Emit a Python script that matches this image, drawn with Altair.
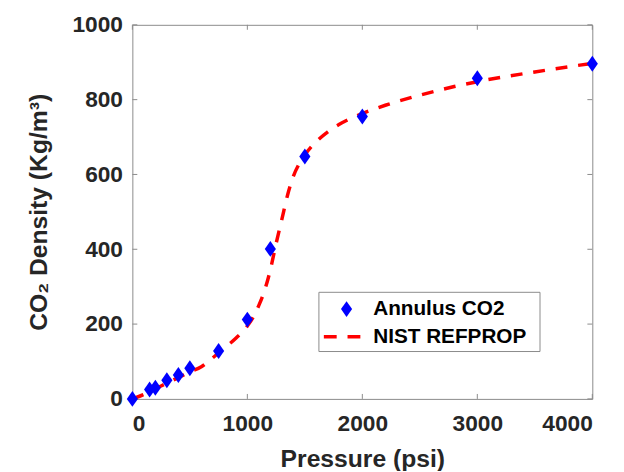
import altair as alt
import pandas as pd

# Measured data (Annulus CO2)
pressure_meas = [0, 150, 200, 300, 400, 500, 750, 1000, 1200, 1500, 2000, 3000, 4000]
density_meas = [0, 25, 30, 50, 64, 82, 128, 212, 401, 648, 755, 857, 896]

# NIST REFPROP curve
pressure_nist = [0, 100, 200, 300, 400, 500, 600, 700, 800, 900, 1000, 1050, 1100, 1150,
                 1200, 1250, 1300, 1350, 1400, 1450, 1500, 1600, 1700, 1800, 1900, 2000,
                 2200, 2500, 2800, 3000, 3500, 4000]
density_nist = [0, 12, 27, 42, 57, 72, 86, 110, 136, 162, 195, 218, 250, 290,
                345, 415, 480, 545, 595, 628, 652, 688, 714, 734, 750, 763,
                785, 812, 835, 848, 874, 897]

x_ticks = [0, 1000, 2000, 3000, 4000]
y_ticks = [0, 200, 400, 600, 800, 1000]
legend_labels = ["Annulus CO2", "NIST REFPROP"]

W, H = 466, 379
FONT = "Liberation Sans"
TXT = "#262626"
BOX = "#8a8a8a"
DIAMOND = "M0,-1L0.7,0L0,1L-0.7,0Z"

df_meas = pd.DataFrame({"P": pressure_meas, "D": density_meas})
df_nist = pd.DataFrame({"P": pressure_nist, "D": density_nist})
df_xt = pd.DataFrame({"P": x_ticks})
df_yt = pd.DataFrame({"D": y_ticks})
df_one = pd.DataFrame({"k": [0]})

xscale = alt.Scale(domain=[0, 4000], nice=False)
yscale = alt.Scale(domain=[0, 1000], nice=False)

x_axis = alt.Axis(values=x_ticks, format="d", ticks=False, domain=False, grid=False,
                  labelFont=FONT, labelFontSize=23, labelFontWeight="bold", labelColor=TXT,
                  labelPadding=14, title="Pressure (psi)", titleFont=FONT, titleFontSize=25,
                  titleFontWeight="bold", titleColor=TXT, titleX=W / 2, titleY=60,
                  titleAlign="center", titleBaseline="middle")
y_axis = alt.Axis(values=y_ticks, format="d", ticks=False, domain=False, grid=False,
                  labelFont=FONT, labelFontSize=23, labelFontWeight="bold", labelColor=TXT,
                  labelPadding=10, title="CO₂ Density (Kg/m³)", titleFont=FONT,
                  titleFontSize=25, titleFontWeight="bold", titleColor=TXT,
                  titleX=-95, titleY=H / 2, titleAngle=270, titleAlign="center",
                  titleBaseline="middle")

line = alt.Chart(df_nist).mark_line(
    color="#ff0000", strokeWidth=3.5, strokeDash=[12, 11], interpolate="monotone"
).encode(
    x=alt.X("P:Q", scale=xscale, axis=x_axis),
    y=alt.Y("D:Q", scale=yscale, axis=y_axis),
)

points = alt.Chart(df_meas).mark_point(
    shape=DIAMOND, filled=True, color="#0000ff", size=260, opacity=1
).encode(
    x=alt.X("P:Q", scale=xscale),
    y=alt.Y("D:Q", scale=yscale),
)

# inward ticks on all four sides
tick_col = BOX
xt_bottom = alt.Chart(df_xt).mark_rule(color=tick_col).encode(
    x=alt.X("P:Q", scale=xscale), y=alt.value(H), y2=alt.value(H - 5))
xt_top = alt.Chart(df_xt).mark_rule(color=tick_col).encode(
    x=alt.X("P:Q", scale=xscale), y=alt.value(0), y2=alt.value(5))
yt_left = alt.Chart(df_yt).mark_rule(color=tick_col).encode(
    y=alt.Y("D:Q", scale=yscale), x=alt.value(0), x2=alt.value(5))
yt_right = alt.Chart(df_yt).mark_rule(color=tick_col).encode(
    y=alt.Y("D:Q", scale=yscale), x=alt.value(W), x2=alt.value(W - 5))

# legend
leg_box = alt.Chart(df_one).mark_rect(fill="white", stroke=BOX, strokeWidth=1).encode(
    x=alt.value(189), x2=alt.value(413), y=alt.value(271), y2=alt.value(331))
leg_pt = alt.Chart(df_one).mark_point(
    shape=DIAMOND, filled=True, color="#0000ff", size=260, opacity=1
).encode(x=alt.value(217), y=alt.value(288))
leg_line = alt.Chart(df_one).mark_rule(
    color="#ff0000", strokeWidth=3.5, strokeDash=[13, 11]
).encode(x=alt.value(194), x2=alt.value(232), y=alt.value(316))
leg_t1 = alt.Chart(df_one).mark_text(
    align="left", baseline="middle", font=FONT, fontSize=21, fontWeight="bold", color="black"
).encode(x=alt.value(244), y=alt.value(288), text=alt.value(legend_labels[0]))
leg_t2 = alt.Chart(df_one).mark_text(
    align="left", baseline="middle", font=FONT, fontSize=21, fontWeight="bold", color="black"
).encode(x=alt.value(244), y=alt.value(316), text=alt.value(legend_labels[1]))

chart = alt.layer(
    line, xt_bottom, xt_top, yt_left, yt_right, points,
    leg_box, leg_pt, leg_line, leg_t1, leg_t2
).properties(
    width=W, height=H,
    autosize=alt.AutoSizeParams(type="none"),
    padding={"left": 126, "top": 14, "right": 24, "bottom": 70},
    background="white",
).configure_view(stroke=BOX, strokeWidth=1)

chart.save("out.html", embed_options={"renderer": "svg", "actions": False})
